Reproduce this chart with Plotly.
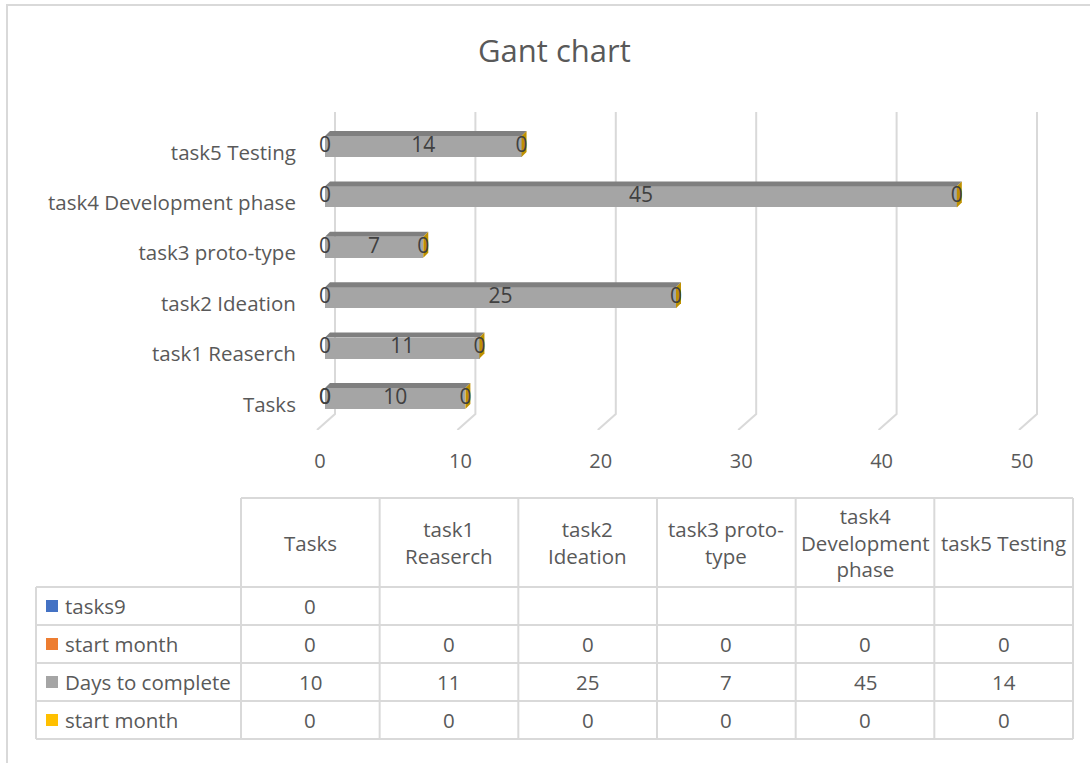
import plotly.graph_objects as go

# ---- data -------------------------------------------------------------
categories = ["Tasks", "task1 Reaserch", "task2 Ideation", "task3 proto-type",
              "task4 Development phase", "task5 Testing"]
header_labels = ["Tasks", "task1<br>Reaserch", "task2<br>Ideation", "task3 proto-<br>type",
                 "task4<br>Development<br>phase", "task5 Testing"]

tasks9 = [0, None, None, None, None, None]
start_month = [0, 0, 0, 0, 0, 0]
days_to_complete = [10, 11, 25, 7, 45, 14]
start_month_end = [0, 0, 0, 0, 0, 0]

series_names = ["tasks9", "start month", "Days to complete", "start month"]
series_values = [tasks9, start_month, days_to_complete, start_month_end]
series_colors = ["#4472C4", "#ED7D31", "#A5A5A5", "#FFC000"]

x_ticks = [0, 10, 20, 30, 40, 50]

# ---- geometry helpers -------------------------------------------------
W, H = 1090, 763
TEXT = "#595959"
GRID = "#D9D9D9"
FONT = "Open Sans"


def px(xp):
    return xp / W


def py(yp):
    return 1 - yp / H


Y_RANGE = [-0.625, 5.684]
X_RANGE = [-2, 52]
BAR_W = 0.417          # front face thickness (category units)
DX, DY = 0.356, 0.099  # 3-D depth offset (data units)

fig = go.Figure()

# front faces of the stacked bars
for name, vals, col in zip(series_names, series_values, series_colors):
    fig.add_trace(go.Bar(
        y=list(range(len(categories))),
        x=[v if v is not None else 0 for v in vals],
        orientation="h", width=BAR_W, name=name,
        marker=dict(color=col, line=dict(width=0)),
        showlegend=False, hoverinfo="skip",
    ))

# top faces (darker grey) and right side caps (dark gold) of each stack
totals = [sum(v[i] or 0 for v in series_values) for i in range(len(categories))]
for i, tot in enumerate(totals):
    yt = i + BAR_W / 2
    fig.add_trace(go.Scatter(
        x=[0, tot, tot + DX, DX, 0], y=[yt, yt, yt + DY, yt + DY, yt],
        mode="lines", fill="toself", fillcolor="#7F7F7F",
        line=dict(width=0), showlegend=False, hoverinfo="skip"))
    yb = i - BAR_W / 2
    fig.add_trace(go.Scatter(
        x=[tot, tot + DX, tot + DX, tot, tot], y=[yb, yb + DY, yt + DY, yt, yb],
        mode="lines", fill="toself", fillcolor="#BF9000",
        line=dict(width=0), showlegend=False, hoverinfo="skip"))

# data labels, centred on each segment
base = [0] * len(categories)
for vals in series_values:
    xs, ys, ts = [], [], []
    for i, v in enumerate(vals):
        if v is None:
            continue
        xs.append(base[i] + v / 2)
        ys.append(i)
        ts.append(str(v))
        base[i] += v
    fig.add_trace(go.Scatter(
        x=xs, y=ys, text=ts, mode="text", textposition="middle center",
        textfont=dict(family=FONT, size=21, color="#404040"),
        showlegend=False, hoverinfo="skip"))

shapes = []

# 3-D gridlines: back wall vertical, then slanting onto the floor
for v in x_ticks:
    shapes.append(dict(
        type="path", xref="x", yref="y", layer="below",
        path=f"M {v + 0.712},{Y_RANGE[1]} L {v + 0.712},-0.3075 L {v - 0.57},{Y_RANGE[0]}",
        line=dict(color=GRID, width=2)))

# chart frame
shapes.append(dict(type="rect", xref="paper", yref="paper",
                   x0=px(7), x1=px(W + 10), y0=py(H + 10), y1=py(5),
                   line=dict(color=GRID, width=2), layer="below"))

# ---- data table under the chart --------------------------------------
col_edges = [241 + k * (1073 - 241) / 6 for k in range(7)]
row_edges = [587, 625, 663, 701, 739]
TOP = 498
LEFT = 36
TABLE_FONT = dict(family=FONT, size=20.5, color=TEXT)


def hline(y, x0, x1):
    shapes.append(dict(type="line", xref="paper", yref="paper",
                       x0=px(x0), x1=px(x1), y0=py(y), y1=py(y),
                       line=dict(color=GRID, width=2)))


def vline(x, y0, y1):
    shapes.append(dict(type="line", xref="paper", yref="paper",
                       x0=px(x), x1=px(x), y0=py(y0), y1=py(y1),
                       line=dict(color=GRID, width=2)))


hline(TOP, col_edges[0], col_edges[-1])
for r in row_edges:
    hline(r, LEFT, col_edges[-1])
vline(LEFT, row_edges[0], row_edges[-1])
for c in col_edges:
    vline(c, TOP, row_edges[-1])

annotations = []

# title
annotations.append(dict(text="Gant chart", x=px(554), y=py(50), xref="paper", yref="paper",
                        showarrow=False, xanchor="center", yanchor="middle",
                        font=dict(family=FONT, size=31, color=TEXT)))

# column headers
for k, lab in enumerate(header_labels):
    cx = (col_edges[k] + col_edges[k + 1]) / 2
    annotations.append(dict(text=lab, x=px(cx), y=py((TOP + row_edges[0]) / 2),
                            xref="paper", yref="paper", showarrow=False,
                            xanchor="center", yanchor="middle", font=TABLE_FONT))

# legend column + values
for r, (name, vals, col) in enumerate(zip(series_names, series_values, series_colors)):
    cy = (row_edges[r] + row_edges[r + 1]) / 2
    shapes.append(dict(type="rect", xref="paper", yref="paper",
                       x0=px(46), x1=px(58), y0=py(cy + 6), y1=py(cy - 6),
                       fillcolor=col, line=dict(width=0)))
    annotations.append(dict(text=name, x=px(63), y=py(cy), xref="paper", yref="paper",
                            showarrow=False, xanchor="left", yanchor="middle",
                            font=TABLE_FONT))
    for k, v in enumerate(vals):
        if v is None:
            continue
        cx = (col_edges[k] + col_edges[k + 1]) / 2
        annotations.append(dict(text=str(v), x=px(cx), y=py(cy), xref="paper", yref="paper",
                                showarrow=False, xanchor="center", yanchor="middle",
                                font=TABLE_FONT))

fig.update_layout(
    width=W, height=H,
    margin=dict(l=0, r=0, t=0, b=0),
    paper_bgcolor="white", plot_bgcolor="rgba(0,0,0,0)",
    barmode="stack", bargap=0,
    shapes=shapes, annotations=annotations,
    xaxis=dict(range=X_RANGE, domain=[px(325 - 2 * 14.04), px(1027 + 2 * 14.04)],
               tickvals=x_ticks, showgrid=False, zeroline=False, showline=False,
               ticks="", ticklabelshift=-5, ticklabelstandoff=17,
               tickfont=dict(family=FONT, size=20, color=TEXT), fixedrange=True),
    yaxis=dict(range=Y_RANGE, domain=[py(430), py(112)],
               tickvals=list(range(len(categories))), ticktext=categories,
               showgrid=False, zeroline=False, showline=False, ticks="",
               ticklabelshift=6, ticklabelstandoff=0,
               tickfont=dict(family=FONT, size=20.5, color=TEXT), fixedrange=True),
    font=dict(family=FONT, color=TEXT),
)

fig.write_html("out.html")
